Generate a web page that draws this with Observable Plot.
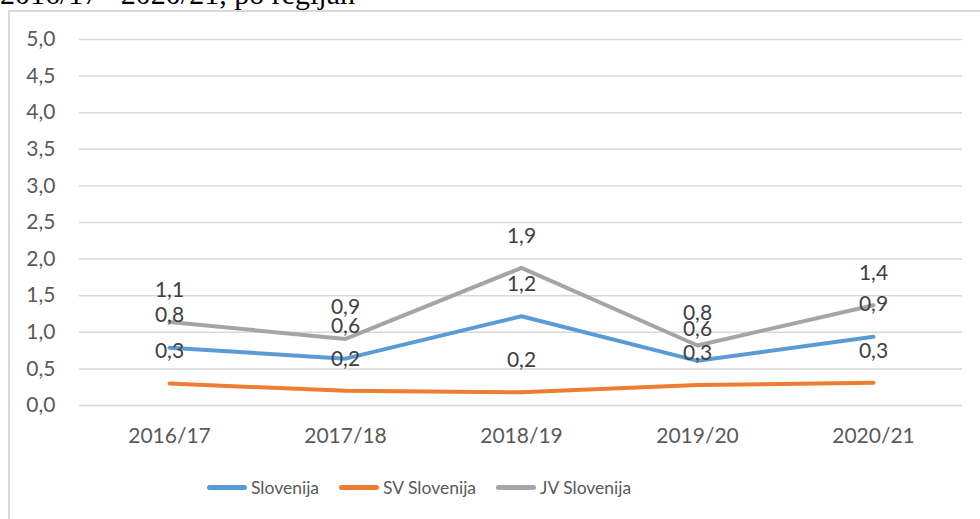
<!DOCTYPE html>
<html>
<head>
<meta charset="utf-8">
<script src="https://cdn.jsdelivr.net/npm/d3@7"></script>
<script src="https://cdn.jsdelivr.net/npm/@observablehq/plot@0.6"></script>
<style>
  html, body { margin: 0; padding: 0; background: #fff; width: 980px; height: 519px; overflow: hidden; position: relative; }
  #title { position: absolute; left: 0; top: -21px; font-family: "Liberation Serif", serif; font-size: 30px; line-height: 30px; color: #000; white-space: nowrap; }
  #frame { position: absolute; left: 8px; top: 10px; width: 1000px; height: 600px; border-left: 2px solid #d9d9d9; border-top: 2px solid #d9d9d9; }
  #chart { position: absolute; left: 0; top: 0; }
  #legend { position: absolute; left: 207px; top: 477px; display: flex; align-items: center; gap: 20px; font-family: Lato, sans-serif; font-size: 17.5px; color: #595959; }
  .item { display: flex; align-items: center; }
  .sw { width: 40px; height: 5px; border-radius: 3px; margin-right: 4px; }
</style>
</head>
<body>
<div id="title">2016/17– 2020/21, po regijah</div>
<div id="frame"></div>
<div id="chart"></div>
<div id="legend"></div>
<script>
const categories = ["2016/17", "2017/18", "2018/19", "2019/20", "2020/21"];
const seriesNames = ["Slovenija", "SV Slovenija", "JV Slovenija"];
const slovenija = [0.79, 0.64, 1.22, 0.61, 0.94];
const svSlovenija = [0.30, 0.20, 0.18, 0.28, 0.31];
const jvSlovenija = [1.14, 0.91, 1.88, 0.82, 1.37];
const colors = ["#5B9BD5", "#ED7D31", "#A5A5A5"];
const yTicks = [0, 0.5, 1, 1.5, 2, 2.5, 3, 3.5, 4, 4.5, 5];

const seriesValues = [slovenija, svSlovenija, jvSlovenija];
const data = [];
seriesNames.forEach((s, i) => categories.forEach((c, j) => data.push({series: s, cat: c, value: seriesValues[i][j]})));
const fmt = d => d.toFixed(1).replace(".", ",");

const chart = Plot.plot({
  width: 980,
  height: 460,
  marginTop: 39,
  marginBottom: 55,
  marginLeft: 79,
  marginRight: 18,
  style: {fontFamily: "Lato, sans-serif", fontSize: "21px", color: "#595959", background: "transparent"},
  x: {type: "band", domain: categories, padding: 0, label: null},
  y: {domain: [0, 5], label: null},
  color: {domain: seriesNames, range: colors},
  marks: [
    Plot.ruleY(yTicks, {stroke: "#d9d9d9", strokeWidth: 1.5}),
    Plot.axisY({ticks: yTicks, tickFormat: fmt, tickSize: 0, tickPadding: 24, fill: "#595959", label: null}),
    Plot.axisX({tickSize: 0, tickPadding: 23, fill: "#595959", label: null}),
    Plot.line(data, {x: "cat", y: "value", z: "series", stroke: "series", strokeWidth: 4, strokeLinecap: "round", strokeLinejoin: "round"}),
    Plot.text(data, {x: "cat", y: "value", text: d => fmt(d.value), dy: -32, fill: "#404040", fontSize: 21})
  ]
});
document.getElementById("chart").appendChild(chart);

const legend = document.getElementById("legend");
seriesNames.forEach((s, i) => {
  const it = document.createElement("div");
  it.className = "item";
  const sw = document.createElement("span");
  sw.className = "sw";
  sw.style.background = colors[i];
  const t = document.createElement("span");
  t.textContent = s;
  it.appendChild(sw);
  it.appendChild(t);
  legend.appendChild(it);
});
</script>
</body>
</html>
